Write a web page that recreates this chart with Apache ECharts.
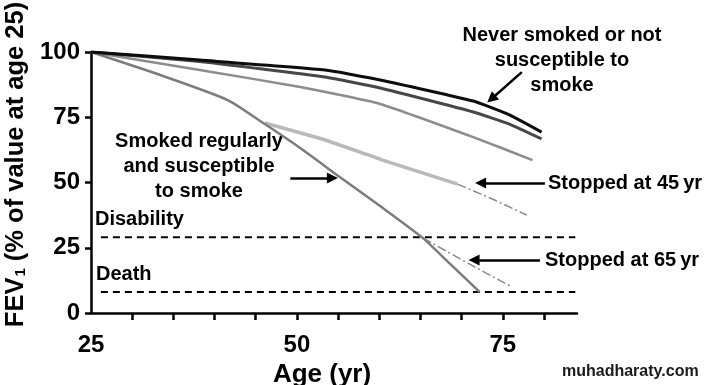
<!DOCTYPE html>
<html>
<head>
<meta charset="utf-8">
<script src="https://cdn.jsdelivr.net/npm/echarts@6/dist/echarts.min.js"></script>
<style>
  html, body { margin: 0; padding: 0; background: #fff; }
  #main { width: 711px; height: 385px; }
</style>
</head>
<body>
<div id="main"></div>
<script>
/* FEV1 vs age — Fletcher–Peto style curves */
const FONT = 'Arial, "Liberation Sans", sans-serif';

// [age, FEV1 %] pairs
const neverSmoked    = [[25, 100], [38.2, 96.9], [53.4, 93.1], [60.1, 89.3], [71.4, 81.2], [75.8, 75.9], [79.7, 69.3]];
const notSusceptible = [[25, 100], [38.2, 96.4], [53.4, 90.4], [60.1, 86.2], [71.4, 77.0], [75.8, 72.4], [79.7, 66.7]];
const mildDecline    = [[25, 100], [38.2, 93.1], [50.4, 86.6], [60.1, 80.1], [71.4, 67.4], [78.6, 58.6]];
const smoker         = [[25, 100], [33.4, 91.2], [41.6, 81.6], [46.1, 72.4], [50.4, 63.2], [55.2, 52.1], [60.1, 41.0], [65.3, 28.7], [68.6, 18.8], [72.2, 8.0]];
const stopped45      = [[46.1, 72.8], [53.4, 66.3], [60.4, 58.6], [69.5, 49.4]];
const stopped45Tail  = [[69.5, 49.4], [74.0, 43.3], [77.9, 37.5]];
const stopped65Tail  = [[65.3, 28.7], [70.8, 19.0], [76.1, 10.0]];

const disabilityLevel = 29;
const deathLevel = 8;
const thresholdSpan = [26.2, 83.8];

const yTicks = [0, 25, 50, 75, 100];
const xTickValues = [30, 35, 40, 45, 50, 55, 60, 65, 70, 75, 80];
const xLabelValues = [25, 50, 75];

// arrows: [from, to] in [age, FEV1]
const arrows = [
  [[77.3, 92.3], [73.6, 82.0]],
  [[49.2, 51.7], [54.3, 51.7]],
  [[80.1, 49.8], [72.3, 49.8]],
  [[79.5, 20.3], [71.5, 20.3]]
];

const chart = echarts.init(document.getElementById('main'), null, { renderer: 'canvas' });

const line = (name, data, color, width, type, smooth) => ({
  name, type: 'line', data, showSymbol: false, smooth: smooth == null ? 0.15 : smooth,
  lineStyle: { color, width, type: type || 'solid' }, silent: true
});

const dashDot = [9, 3, 2, 3];

const txt = (text, x, y, align, size) => ({
  type: 'text', x, y,
  style: {
    text, fill: '#000', font: `bold ${size || 20}px ${FONT}`,
    align: align || 'left', verticalAlign: 'middle', lineHeight: 25
  }
});

chart.setOption({
  animation: false,
  backgroundColor: '#fff',
  grid: { left: 91, right: 134, top: 52, bottom: 72, outerBoundsMode: 'none' },
  xAxis: {
    type: 'value', min: 25, max: 84,
    name: 'Age (yr)', nameLocation: 'middle', nameGap: 43,
    nameTextStyle: { color: '#000', fontSize: 26, fontWeight: 'bold', fontFamily: FONT, padding: [0, 24, 0, 0] },
    axisLine: { lineStyle: { color: '#000', width: 2.5 } },
    axisTick: { show: true, length: 7, lineStyle: { color: '#000', width: 2.5 }, customValues: xTickValues },
    axisLabel: { color: '#000', fontSize: 24, fontWeight: 'bold', fontFamily: FONT, margin: 20, customValues: xLabelValues },
    splitLine: { show: false }
  },
  yAxis: {
    type: 'value', min: 0, max: 100, interval: 25,
    name: '{a|FEV}{s|1}{a| (% of value at age 25)}',
    nameLocation: 'middle', nameGap: 62,
    nameTextStyle: {
      color: '#000', fontFamily: FONT, padding: [0, 0, 0, 36],
      rich: {
        a: { fontSize: 25.5, fontWeight: 'bold', fontFamily: FONT, color: '#000' },
        s: { fontSize: 15, fontWeight: 'bold', fontFamily: FONT, color: '#000', padding: [10, 0, 0, 1] }
      }
    },
    axisLine: { show: true, lineStyle: { color: '#000', width: 2.5 } },
    axisTick: { show: true, length: 6, lineStyle: { color: '#000', width: 2.5 } },
    axisLabel: { color: '#000', fontSize: 24, fontWeight: 'bold', fontFamily: FONT, margin: 11, customValues: yTicks },
    splitLine: { show: false }
  },
  series: [
    line('Disability', thresholdSpan.map((a) => [a, disabilityLevel]), '#000', 2, [7, 5], false),
    line('Death', thresholdSpan.map((a) => [a, deathLevel]), '#000', 2, [7, 5], false),
    line('Stopped at 45 yr (tail)', stopped45Tail, '#8a8a8a', 1.5, dashDot, false),
    line('Stopped at 65 yr', stopped65Tail, '#8a8a8a', 1.5, dashDot, false),
    line('Stopped at 45 yr', stopped45, '#b9b9b9', 3.5),
    line('Mild decline', mildDecline, '#8c8c8c', 2.5),
    line('Smoked regularly and susceptible to smoke', smoker, '#7c7c7c', 2.5, null, 0.2),
    line('Not susceptible', notSusceptible, '#474747', 3),
    line('Never smoked', neverSmoked, '#0d0d0d', 3),
    {
      name: 'arrows', type: 'line', data: [], silent: true,
      markLine: {
        silent: true, animation: false,
        symbol: ['none', 'triangle'], symbolSize: 11,
        label: { show: false },
        lineStyle: { color: '#000', width: 2.5, type: 'solid' },
        emphasis: { disabled: true },
        data: arrows.map(([a, b]) => [{ coord: a }, { coord: b }])
      }
    }
  ],
  graphic: [
    txt('Smoked regularly\nand susceptible\nto smoke', 199, 166, 'center'),
    txt('Never smoked or not\nsusceptible to\nsmoke', 562, 60, 'center'),
    txt('Stopped at 45\u2009yr', 548, 183),
    txt('Stopped at 65\u2009yr', 545, 260),
    txt('Disability', 95, 219),
    txt('Death', 96, 274),
    {
      type: 'text', x: 562, y: 372,
      style: { text: 'muhadharaty.com', fill: '#1a1a1a', font: `bold 16px ${FONT}`, align: 'left', verticalAlign: 'middle' }
    }
  ]
});
</script>
</body>
</html>
